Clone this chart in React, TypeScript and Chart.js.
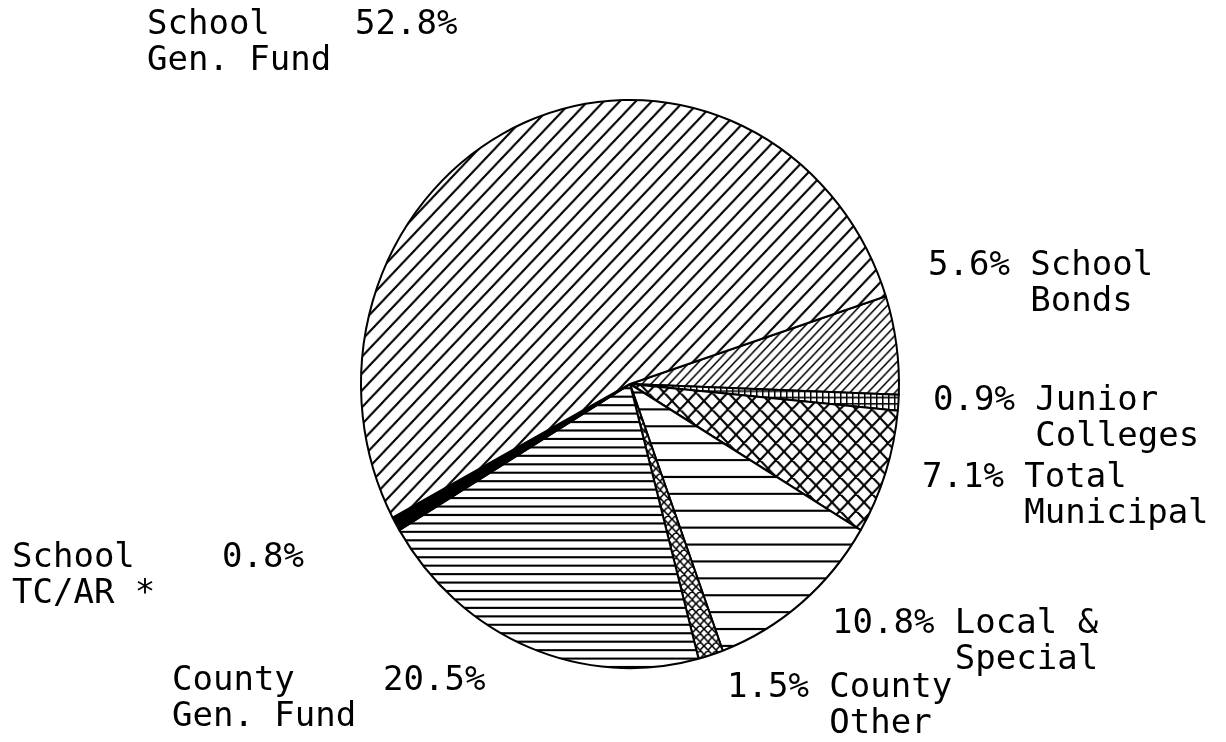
import React, { useEffect, useRef } from 'react';
import { Chart, registerables } from 'chart.js';

Chart.register(...registerables);

// ---- data (clockwise from the upper right) ----
const categories = [
  'School Bonds',
  'Junior Colleges',
  'Total Municipal',
  'Local & Special',
  'County Other',
  'County Gen. Fund',
  'School TC/AR *',
  'School Gen. Fund',
];
const shares = [5.6, 0.9, 7.1, 10.8, 1.5, 20.5, 0.8, 52.8];
const labelLine1 = ['School', 'Junior', 'Total', 'Local &', 'County', 'County', 'School', 'School'];
const labelLine2 = ['Bonds', 'Colleges', 'Municipal', 'Special', 'Other', 'Gen. Fund', 'TC/AR *', 'Gen. Fund'];
const hatchKinds = ['diag9', 'grid6', 'cross16', 'horiz16', 'cross8', 'horiz8', 'solid', 'diag16'];

// ---- layout (label anchors, not data) ----
const LABEL_LAYOUT: { x: number; y: number; pctX?: number }[] = [
  { x: 928, y: 275 },
  { x: 933, y: 410 },
  { x: 922, y: 487 },
  { x: 832, y: 633 },
  { x: 727, y: 697 },
  { x: 172, y: 690, pctX: 383 },
  { x: 12, y: 567, pctX: 222 },
  { x: 147, y: 34, pctX: 355 },
];
const LINE_GAP = 36;
const FONT = '34px "DejaVu Sans Mono", monospace';
const Y_STRETCH = 1.056;

function makePattern(kind: string): CanvasPattern | string {
  if (kind === 'solid') return '#000';
  const c = document.createElement('canvas');
  const ctx = c.getContext('2d')!;
  let w = 16, h = 16;
  if (kind === 'diag16' || kind === 'diag9' || kind === 'cross16' || kind === 'cross8') {
    const p = kind.endsWith('16') ? 16 : kind === 'diag9' ? 9 : 8;
    w = h = p;
    c.width = w; c.height = h;
    ctx.fillStyle = '#fff';
    ctx.fillRect(0, 0, w, h);
    ctx.strokeStyle = '#000';
    ctx.lineWidth = kind === 'diag16' || kind === 'cross16' ? 2 : 1.5;
    ctx.beginPath();
    // "/" lines
    ctx.moveTo(-p, p); ctx.lineTo(p, -p);
    ctx.moveTo(0, 2 * p); ctx.lineTo(2 * p, 0);
    ctx.moveTo(-p, 2 * p); ctx.lineTo(p, 0);
    ctx.moveTo(0, p); ctx.lineTo(p, 0);
    if (kind.startsWith('cross')) {
      ctx.moveTo(0, 0); ctx.lineTo(p, p);
      ctx.moveTo(-p, 0); ctx.lineTo(p, 2 * p);
      ctx.moveTo(0, -p); ctx.lineTo(2 * p, p);
    }
    ctx.stroke();
  } else if (kind === 'horiz16' || kind === 'horiz8') {
    h = kind === 'horiz16' ? 16 : 8;
    w = 8;
    c.width = w; c.height = h;
    ctx.fillStyle = '#fff';
    ctx.fillRect(0, 0, w, h);
    ctx.fillStyle = '#000';
    ctx.fillRect(0, Math.floor(h / 2) - 1, w, 2);
  } else if (kind === 'grid6') {
    w = h = 6;
    c.width = w; c.height = h;
    ctx.fillStyle = '#fff';
    ctx.fillRect(0, 0, w, h);
    ctx.fillStyle = '#000';
    ctx.fillRect(0, 0, w, 1.5);
    ctx.fillRect(0, 0, 1.5, h);
  }
  return ctx.createPattern(c, 'repeat')!;
}

const stretchPlugin = {
  id: 'stretch',
  beforeDatasetsDraw(chart: any) {
    const a = chart.chartArea;
    const cx = (a.left + a.right) / 2;
    const cy = (a.top + a.bottom) / 2;
    const ctx = chart.ctx;
    ctx.save();
    ctx.translate(cx, cy);
    ctx.scale(1, Y_STRETCH);
    ctx.translate(-cx, -cy);
  },
  afterDatasetsDraw(chart: any) {
    chart.ctx.restore();
  },
};

const labelPlugin = {
  id: 'sliceLabels',
  afterDraw(chart: any) {
    const ctx = chart.ctx;
    ctx.save();
    ctx.font = FONT;
    ctx.fillStyle = '#000';
    ctx.textBaseline = 'alphabetic';
    ctx.textAlign = 'left';
    shares.forEach((v, i) => {
      const pos = LABEL_LAYOUT[i];
      const pct = v.toFixed(1) + '%';
      if (pos.pctX === undefined) {
        ctx.fillText(pct, pos.x, pos.y);
        const nx = pos.x + ctx.measureText(pct + ' ').width;
        ctx.fillText(labelLine1[i], nx, pos.y);
        ctx.fillText(labelLine2[i], nx, pos.y + LINE_GAP);
      } else {
        ctx.fillText(labelLine1[i], pos.x, pos.y);
        ctx.fillText(pct, pos.pctX, pos.y);
        ctx.fillText(labelLine2[i], pos.x, pos.y + LINE_GAP);
      }
    });
    ctx.restore();
  },
};

export default function App() {
  const ref = useRef<HTMLCanvasElement | null>(null);
  useEffect(() => {
    if (!ref.current) return;
    const chart = new Chart(ref.current, {
      type: 'pie',
      data: {
        labels: categories,
        datasets: [
          {
            data: shares,
            backgroundColor: hatchKinds.map(makePattern) as any,
            borderColor: '#000',
            borderWidth: 2,
            hoverOffset: 0,
            radius: 269,
            rotation: 72,
          } as any,
        ],
      },
      options: {
        responsive: false,
        animation: false,
        events: [],
        layout: { padding: { left: 340, right: 306, top: 94, bottom: 68 } },
        plugins: {
          legend: { display: false },
          tooltip: { enabled: false },
        },
      },
      plugins: [stretchPlugin, labelPlugin],
    });
    return () => chart.destroy();
  }, []);
  return (
    <div style={{ position: 'fixed', left: 0, top: 0, width: 1226, height: 742, background: '#fff' }}>
      <canvas ref={ref} width={1226} height={742} style={{ display: 'block', width: 1226, height: 742 }} />
    </div>
  );
}
